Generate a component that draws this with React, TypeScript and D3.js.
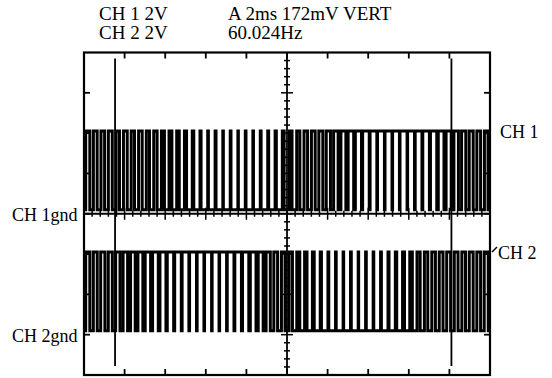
import { useEffect, useRef } from 'react';
import * as d3 from 'd3';

// scope settings
const headerLeft = ['CH 1 2V', 'CH 2 2V'];
const headerRight = ['A 2ms 172mV VERT', '60.024Hz'];
const msPerDiv = 2;
const voltsPerDiv = 2;
const xDivs = 10;
const yDivs = 8;

// pulse levels (V) and ground offsets (divisions from centre)
const highLevel = 4.1;
const lowLevel = 0.2;
const ch1Gnd = 0;
const ch2Gnd = -3;

// duty of each carrier period, estimated per pulse
const ch1Duty = [
  0.55, 0.5, 0.48, 0.52, 0.45, 0.5, 0.44, 0.48, 0.42, 0.45, 0.4, 0.38, 0.34, 0.28,
  0.2, 0.14, 0.09, 0.12, 0.07, 0.1, 0.06, 0.09, 0.08, 0.11, 0.12, 0.16, 0.24, 0.34,
  0.42, 0.47, 0.5, 0.53, 0.56, 0.6, 0.66, 0.74, 0.82, 0.88, 0.9, 0.92, 0.93, 0.91,
  0.94, 0.92, 0.9, 0.88, 0.84, 0.76, 0.68, 0.6, 0.56, 0.53, 0.5, 0.48,
];
const ch2Duty = [
  0.55, 0.52, 0.56, 0.54, 0.58, 0.6, 0.62, 0.66, 0.72, 0.76, 0.8, 0.85, 0.88, 0.9,
  0.92, 0.91, 0.94, 0.92, 0.93, 0.9, 0.88, 0.84, 0.76, 0.66, 0.56, 0.5, 0.48, 0.45,
  0.4, 0.32, 0.24, 0.16, 0.11, 0.09, 0.07, 0.1, 0.06, 0.09, 0.08, 0.11, 0.13, 0.18,
  0.26, 0.34, 0.42, 0.45, 0.48, 0.5, 0.52, 0.5, 0.48, 0.52, 0.5, 0.54,
];

// cursor positions (ms)
const cursors = [1.53, 18.1];

const W = 552;
const H = 378;
const frame = { left: 84, right: 490, top: 52.5, bottom: 375 };

export default function App() {
  const svgRef = useRef<SVGSVGElement>(null);

  useEffect(() => {
    const svg = d3.select(svgRef.current);
    svg.selectAll('*').remove();

    const x = d3.scaleLinear().domain([0, xDivs * msPerDiv]).range([frame.left, frame.right]);
    const y = d3.scaleLinear().domain([-yDivs / 2, yDivs / 2]).range([frame.bottom, frame.top]);
    const divW = x(msPerDiv) - x(0);
    const divH = y(0) - y(1);

    const g = svg.append('g').attr('stroke', '#000').attr('fill', 'none');

    // graticule frame
    g.append('rect')
      .attr('x', frame.left).attr('y', frame.top)
      .attr('width', frame.right - frame.left).attr('height', frame.bottom - frame.top)
      .attr('stroke-width', 2.2);

    // edge ticks
    for (let i = 1; i < xDivs; i++) {
      const xx = x(i * msPerDiv);
      g.append('line').attr('x1', xx).attr('x2', xx).attr('y1', frame.top).attr('y2', frame.top + 6).attr('stroke-width', 1.8);
      g.append('line').attr('x1', xx).attr('x2', xx).attr('y1', frame.bottom).attr('y2', frame.bottom - 6).attr('stroke-width', 1.8);
    }
    for (let j = -yDivs / 2 + 1; j < yDivs / 2; j++) {
      const yy = y(j);
      g.append('line').attr('x1', frame.left).attr('x2', frame.left + 6).attr('y1', yy).attr('y2', yy).attr('stroke-width', 1.8);
      g.append('line').attr('x1', frame.right).attr('x2', frame.right - 6).attr('y1', yy).attr('y2', yy).attr('stroke-width', 1.8);
    }

    // centre axes with minor ticks
    const cx = x((xDivs / 2) * msPerDiv);
    const cy = y(0);
    g.append('line').attr('x1', cx).attr('x2', cx).attr('y1', frame.top).attr('y2', frame.bottom).attr('stroke-width', 1.8);
    g.append('line').attr('x1', frame.left).attr('x2', frame.right).attr('y1', cy).attr('y2', cy).attr('stroke-width', 1.8);
    for (let k = 1; k < yDivs * 5; k++) {
      const yy = frame.top + (k * divH) / 5;
      const len = k % 5 === 0 ? 6 : 3;
      g.append('line').attr('x1', cx - len).attr('x2', cx + len).attr('y1', yy).attr('y2', yy).attr('stroke-width', 1.5);
    }
    for (let k = 1; k < xDivs * 5; k++) {
      const xx = frame.left + (k * divW) / 5;
      const len = k % 5 === 0 ? 6 : 3;
      g.append('line').attr('x1', xx).attr('x2', xx).attr('y1', cy - len).attr('y2', cy + len).attr('stroke-width', 1.5);
    }

    // cursors
    cursors.forEach((t) => {
      g.append('line')
        .attr('x1', x(t)).attr('x2', x(t))
        .attr('y1', frame.top + 6).attr('y2', frame.bottom - 9)
        .attr('stroke-width', 1.8);
    });

    // PWM traces
    const line = d3.line<[number, number]>()
      .x((p) => x(p[0]))
      .y((p) => y(p[1]));

    const trace = (duty: number[], gnd: number) => {
      const T = (xDivs * msPerDiv) / duty.length;
      const lo = gnd + lowLevel / voltsPerDiv;
      const hi = gnd + highLevel / voltsPerDiv;
      const pts: [number, number][] = [];
      duty.forEach((d, i) => {
        const t0 = i * T;
        const tr = t0 + (T * (1 - d)) / 2;
        const tf = t0 + (T * (1 + d)) / 2;
        pts.push([t0, lo], [tr, lo], [tr, hi], [tf, hi], [tf, lo]);
      });
      pts.push([xDivs * msPerDiv, lo]);
      g.append('path').attr('d', line(pts)).attr('stroke-width', 3).attr('stroke-linejoin', 'miter');
    };
    trace(ch1Duty, ch1Gnd);
    trace(ch2Duty, ch2Gnd);

    // CH 2 marker
    const m2 = y(ch2Gnd + highLevel / voltsPerDiv);
    g.append('path').attr('d', `M${frame.right + 7},${m2 - 5}L${frame.right + 2},${m2}`).attr('stroke-width', 1.5);

    // texts
    const txt = svg.append('g').attr('font-family', '"Liberation Serif", "Times New Roman", serif').attr('fill', '#000');
    headerLeft.forEach((s, i) => txt.append('text').attr('x', 99).attr('y', 19.5 + i * 19.5).attr('font-size', 19).text(s));
    headerRight.forEach((s, i) => txt.append('text').attr('x', 228).attr('y', 19.5 + i * 19.5).attr('font-size', 19).text(s));
    txt.append('text').attr('x', 12).attr('y', y(ch1Gnd) + 7).attr('font-size', 18).text('CH 1gnd');
    txt.append('text').attr('x', 12).attr('y', y(ch2Gnd) + 7).attr('font-size', 18).text('CH 2gnd');
    txt.append('text').attr('x', 500).attr('y', y(ch1Gnd + highLevel / voltsPerDiv) + 7).attr('font-size', 18).text('CH 1');
    txt.append('text').attr('x', 498).attr('y', y(ch2Gnd + highLevel / voltsPerDiv) + 7).attr('font-size', 18).text('CH 2');
  }, []);

  return (
    <svg
      ref={svgRef}
      width={W}
      height={H}
      style={{ position: 'absolute', left: 0, top: 0, background: '#fff' }}
    />
  );
}
